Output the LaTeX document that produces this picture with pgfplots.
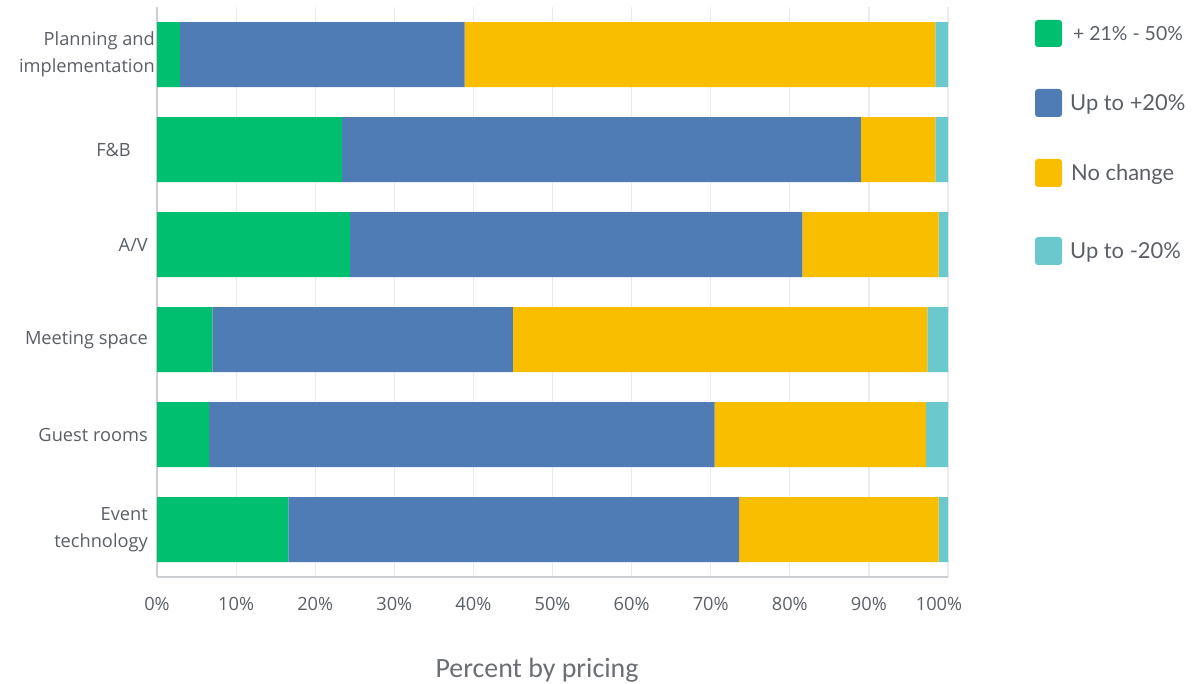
\documentclass[border=0pt]{standalone}
\usepackage{pgfplots}
\pgfplotsset{compat=1.18}
\usepackage{fontspec}
\setmainfont{Lato}
\newfontfamily\opensans{Open Sans}
\newfontfamily\carlito{Carlito}
\definecolor{cgreen}{HTML}{00BF6F}
\definecolor{cblue}{HTML}{507CB6}
\definecolor{cyellow}{HTML}{F9BE00}
\definecolor{cteal}{HTML}{6BC8CD}
\definecolor{labgray}{HTML}{5A5F66}
\definecolor{gridgray}{HTML}{EAEBEC}
\definecolor{axgray}{HTML}{CDD0D3}
\pgfplotstableread{
cat  g     b     y     t
0    2.9   36.0  59.5  1.6
1    23.4  65.6  9.4   1.6
2    24.4  57.2  17.2  1.2
3    7.0   38.0  52.4  2.6
4    6.6   63.9  26.7  2.8
5    16.6  57.0  25.2  1.2
}\datatable
\newcommand{\pad}[1]{#1\rule{7bp}{0pt}}
\begin{document}
\begin{tikzpicture}
\path[use as bounding box] (0,0) rectangle (1194bp,684bp);
\begin{axis}[
  at={(157bp,107bp)}, anchor=south west,
  scale only axis, width=791bp, height=570bp,
  xbar stacked, bar width=65bp,
  xmin=0, xmax=100, ymin=-0.5, ymax=5.5, y dir=reverse,
  ytick={0,...,5},
  yticklabels={{Planning and\\implementation},{\pad{F\&B\rule{17bp}{0pt}}},{\pad{A/V}},{\pad{Meeting space}},{\pad{Guest rooms}},{\pad{Event}\\\pad{technology}}},
  yticklabel style={align=right, font=\opensans\fontsize{18.3}{27}\selectfont, text=labgray, inner sep=0bp, xshift=-2bp},
  xtick={0,10,...,100},
  xticklabels={0\%,10\%,20\%,30\%,40\%,50\%,60\%,70\%,80\%,90\%,{\hspace*{-18bp}100\%}},
  xticklabel style={font=\opensans\fontsize{18.3}{20}\selectfont, text=labgray, yshift=-17bp},
  major tick length=0pt,
  xmajorgrids, grid style={gridgray, line width=1.2bp},
  axis x line*=bottom, axis y line*=left,
  axis line style={axgray, line width=1.2bp, -},
  every axis plot/.append style={draw=none},
]
\addplot[fill=cgreen] table[x=g, y=cat] {\datatable};
\addplot[fill=cblue] table[x=b, y=cat] {\datatable};
\addplot[fill=cyellow] table[x=y, y=cat] {\datatable};
\addplot[fill=cteal] table[x=t, y=cat] {\datatable};
\end{axis}
\node[font=\carlito\fontsize{28}{32}\selectfont, text=labgray!90] at (537bp,14bp) {Percent by pricing};
\fill[cgreen, rounded corners=3bp] (1035bp,637bp) rectangle (1062bp,664bp);
\fill[cblue, rounded corners=3bp] (1035bp,567bp) rectangle (1062bp,595bp);
\fill[cyellow, rounded corners=3bp] (1035bp,497bp) rectangle (1062bp,525bp);
\fill[cteal, rounded corners=3bp] (1035bp,419bp) rectangle (1062bp,447bp);
\begin{scope}[every node/.style={anchor=west, font=\fontsize{22}{24}\selectfont, text=labgray, inner sep=0pt}]
\node[font=\fontsize{19.5}{22}\selectfont] at (1073bp,650bp) {+ 21\% - 50\%};
\node at (1070bp,580bp) {Up to +20\%};
\node at (1071bp,510bp) {No change};
\node at (1070bp,432bp) {Up to -20\%};
\end{scope}
\end{tikzpicture}
\end{document}
